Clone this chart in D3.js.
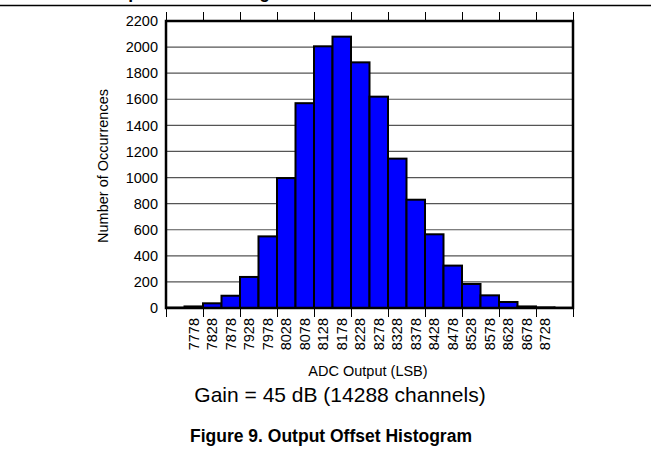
<!DOCTYPE html>
<html>
<head>
<meta charset="utf-8">
<script src="https://cdn.jsdelivr.net/npm/d3@7"></script>
<style>
  body { margin: 0; background: white; }
  text { font-family: Arial, 'Liberation Sans', sans-serif; }
</style>
</head>
<body>
<div id="hist"></div>
<script>
// histogram bins (ADC output codes) and the counts
const bins = [7728, 7778, 7828, 7878, 7928, 7978, 8028, 8078, 8128, 8178, 8228,
              8278, 8328, 8378, 8428, 8478, 8528, 8578, 8628, 8678, 8728, 8778];
const counts = [3, 12, 36, 94, 238, 549, 996, 1570, 2006, 2080, 1883,
                1620, 1145, 830, 565, 325, 184, 97, 46, 12, 5, 2];
// labels printed under the bars
const xLabels = [7778, 7828, 7878, 7928, 7978, 8028, 8078, 8128, 8178, 8228,
                 8278, 8328, 8378, 8428, 8478, 8528, 8578, 8628, 8678, 8728];
const yTicks = [0, 200, 400, 600, 800, 1000, 1200, 1400, 1600, 1800, 2000, 2200];
const edgeTicks = [0, 2, 4, 6, 8, 10, 12, 14, 16, 18, 20, 22];

let width = 663;
let height = 461;
let plot = { left: 166, right: 573, top: 21, bottom: 308 };

let svg = d3.select('#hist')
            .append('svg')
            .attr('width', width)
            .attr('height', height)
            .style('background', 'white');

// cut off heading + page rule at the very top
svg.append('text')
   .attr('x', 98)
   .attr('y', -2.5)
   .style('font-size', '17.5px')
   .style('font-weight', 'bold')
   .text('Output Offset Histogram');
svg.append('line')
   .attr('x1', 0).attr('x2', 651)
   .attr('y1', 5.5).attr('y2', 5.5)
   .attr('stroke', 'black')
   .attr('stroke-width', 1.5);

// scales
let xScale = d3.scaleBand()
               .domain(bins)
               .range([plot.left, plot.right])
               .padding(0);
let edgeScale = d3.scaleLinear()
                  .domain([0, bins.length])
                  .range([plot.left, plot.right]);
let yScale = d3.scaleLinear()
               .domain([0, 2200])
               .range([plot.bottom, plot.top]);

// grid lines
svg.append('g')
   .selectAll('line')
   .data(yTicks.filter(d => d > 0 && d < 2200))
   .enter()
   .append('line')
   .attr('x1', plot.left)
   .attr('x2', plot.right)
   .attr('y1', d => yScale(d))
   .attr('y2', d => yScale(d))
   .attr('stroke', '#555')
   .attr('stroke-width', 1.2);

// bars
svg.append('g')
   .selectAll('rect')
   .data(counts)
   .enter()
   .append('rect')
   .attr('x', (d, i) => xScale(bins[i]))
   .attr('y', d => yScale(d))
   .attr('width', xScale.bandwidth())
   .attr('height', d => yScale(0) - yScale(d))
   .attr('fill', '#0000ff')
   .attr('stroke', 'black')
   .attr('stroke-width', 2);

// frame
svg.append('rect')
   .attr('x', plot.left)
   .attr('y', plot.top)
   .attr('width', plot.right - plot.left)
   .attr('height', plot.bottom - plot.top)
   .attr('fill', 'none')
   .attr('stroke', 'black')
   .attr('stroke-width', 2.5);

// outside tick marks, top and bottom
let topTicks = svg.append('g')
                  .attr('transform', `translate(0, ${plot.top})`)
                  .call(d3.axisTop(edgeScale).tickValues(edgeTicks).tickSize(9).tickFormat(''));
let botTicks = svg.append('g')
                  .attr('transform', `translate(0, ${plot.bottom})`)
                  .call(d3.axisBottom(edgeScale).tickValues(edgeTicks).tickSize(9).tickFormat(''));
topTicks.select('.domain').remove();
botTicks.select('.domain').remove();

// y axis labels
let yAxis = svg.append('g')
               .attr('transform', `translate(${plot.left}, 0)`)
               .call(d3.axisLeft(yScale).tickValues(yTicks).tickSize(0).tickPadding(8)
                       .tickFormat(d3.format('d')));
yAxis.select('.domain').remove();
yAxis.selectAll('text')
     .style('font-size', '14.5px')
     .attr('fill', 'black');

// x axis labels, rotated
let xAxis = svg.append('g')
               .attr('transform', `translate(0, ${plot.bottom})`)
               .call(d3.axisBottom(xScale).tickValues(xLabels).tickSize(0));
xAxis.select('.domain').remove();
xAxis.selectAll('text')
     .attr('transform', 'rotate(-90)')
     .attr('x', -10)
     .attr('y', 0)
     .attr('dy', '0.35em')
     .style('text-anchor', 'end')
     .style('font-size', '14.5px')
     .attr('fill', 'black');

// axis titles
svg.append('text')
   .attr('transform', 'translate(108, 166) rotate(-90)')
   .style('text-anchor', 'middle')
   .style('font-size', '14.5px')
   .text('Number of Occurrences');
svg.append('text')
   .attr('x', 368)
   .attr('y', 376)
   .style('text-anchor', 'middle')
   .style('font-size', '14.5px')
   .text('ADC Output (LSB)');
svg.append('text')
   .attr('x', 340)
   .attr('y', 401.5)
   .style('text-anchor', 'middle')
   .style('font-size', '21px')
   .text('Gain = 45 dB (14288 channels)');
svg.append('text')
   .attr('x', 331)
   .attr('y', 441.5)
   .style('text-anchor', 'middle')
   .style('font-size', '17.5px')
   .style('font-weight', 'bold')
   .text('Figure 9. Output Offset Histogram');
</script>
</body>
</html>
